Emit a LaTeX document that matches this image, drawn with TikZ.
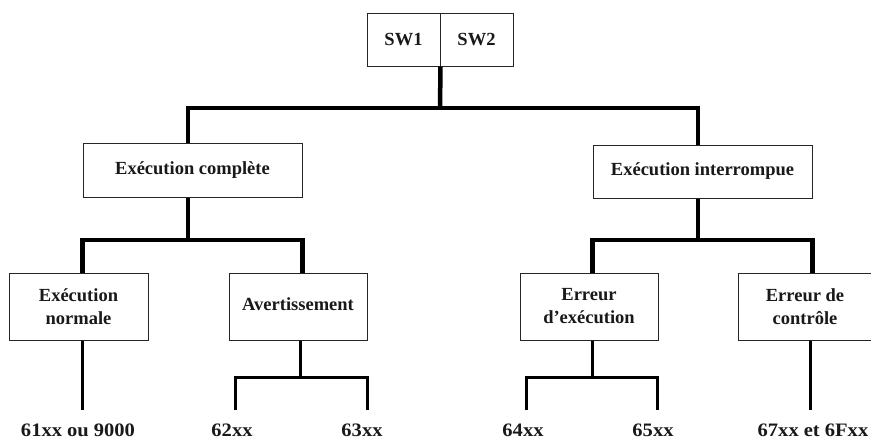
\documentclass[tikz,border=0pt]{standalone}
\usepackage{fontspec}
\setmainfont{Liberation Serif}
\newfontfamily\codefont{Liberation Serif}[FakeStretch=1.08]
\begin{document}
\begin{tikzpicture}[x=1pt,y=-1pt,
  box/.style={draw=black!85, line width=1pt, fill=white, align=center, inner sep=0pt,
    font=\bfseries\fontsize{18.5}{23}\selectfont, text=black!90},
  code/.style={inner sep=0pt, font=\codefont\bfseries\fontsize{19}{22}\selectfont, text=black!90},
  heavy/.style={line width=4.5pt, line join=miter},
  mid/.style={line width=3pt, line join=miter}]
\useasboundingbox (0,0) rectangle (871,439);

% switch word
\node[box, minimum width=73pt, minimum height=53pt] (sw1) at (403.5,39.5) {SW1};
\node[box, minimum width=73pt, minimum height=53pt] (sw2) at (476.5,39.5) {SW2};

% first level
\node[box, minimum width=219pt, minimum height=54pt] (complete) at (192.5,170) {Exécution complète};
\node[box, minimum width=219pt, minimum height=53pt] (interr) at (702.5,171.5) {Exécution interrompue};

% second level
\node[box, minimum width=139pt, minimum height=67pt] (normale) at (78.5,306.5) {Exécution\\normale};
\node[box, minimum width=138pt, minimum height=67pt] (avert) at (298,306.5) {\raisebox{4pt}{Avertissement}};
\node[box, minimum width=138pt, minimum height=67pt] (errx) at (589,306.5) {Erreur\\d’exécution};
\node[box, minimum width=134pt, minimum height=67pt] (ctrl) at (805,306.5) {Erreur de\\contrôle};

% codes
\node[code] (c61) at (78,430) {61xx ou 9000};
\node[code] (c62) at (232,430) {62xx};
\node[code] (c63) at (362,430) {63xx};
\node[code] (c64) at (523,430) {64xx};
\node[code] (c65) at (653,430) {65xx};
\node[code] (c67) at (813,430) {67xx et 6Fxx};

% junction points
\coordinate (tj) at (440,108);
\coordinate (cj) at (188,240);
\coordinate (ij) at (698,240);
\coordinate (aj) at (300,377);
\coordinate (ej) at (592,377);
\coordinate (e61) at (82,410);
\coordinate (e62) at (235,410);
\coordinate (e63) at (367,410);
\coordinate (e64) at (526,410);
\coordinate (e65) at (657,410);
\coordinate (e67) at (810,410);

% upper tree
\draw[heavy] (sw1.south east) -- (tj);
\draw[heavy] ([xshift=-4.5pt]complete.north) |- (tj) -| ([xshift=-4.5pt]interr.north);
\draw[heavy] ([xshift=-4.5pt]complete.south) -- (cj);
\draw[heavy] (normale.north -| complete.west) |- (cj) -| (avert.north -| complete.east);
\draw[heavy] ([xshift=-4.5pt]interr.south) -- (ij);
\draw[heavy] (errx.north -| interr.west) |- (ij) -| (ctrl.north -| interr.east);

% lower tree
\draw[mid] (normale.south -| e61) -- (e61);
\draw[mid] (avert.south -| aj) -- (aj);
\draw[mid] (e62) |- (aj) -| (e63);
\draw[mid] (errx.south -| ej) -- (ej);
\draw[mid] (e64) |- (ej) -| (e65);
\draw[mid] (ctrl.south -| e67) -- (e67);
\end{tikzpicture}
\end{document}
